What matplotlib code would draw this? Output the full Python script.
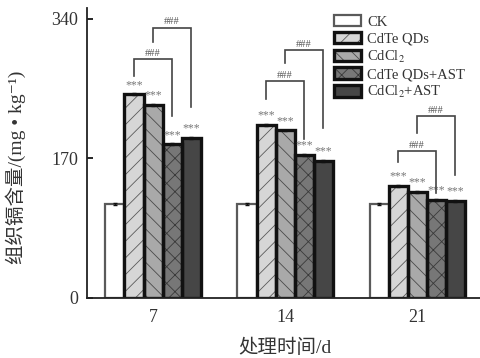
import matplotlib
matplotlib.use("Agg")
import matplotlib.pyplot as plt
import numpy as np

plt.rcParams['font.family'] = ['Liberation Serif', 'DejaVu Serif', 'Noto Sans CJK SC']
plt.rcParams['mathtext.fontset'] = 'stix'
plt.rcParams['hatch.linewidth'] = 0.6

days = ['7', '14', '21']
series = ['CK', 'CdTe QDs', 'CdCl$_2$', 'CdTe QDs+AST', 'CdCl$_2$+AST']
values = {
    'CK':            [114.5, 114.5, 114.5],
    'CdTe QDs':      [247.8, 210.4, 136.5],
    'CdCl$_2$':      [234.8, 203.9, 128.8],
    'CdTe QDs+AST':  [186.9, 173.9, 119.4],
    'CdCl$_2$+AST':  [194.6, 166.6, 118.2],
}
errors = [1.2, 1.2, 1.2, 1.2, 1.2]
stars = ['', '***', '***', '***', '***']
# brackets: (group, left bar, right bar, left foot, top, right foot)
brackets = [
    (0, 1, 3, 270, 291, 221),
    (0, 2, 4, 312, 329, 233),
    (1, 1, 3, 242, 264, 194),
    (1, 2, 4, 286, 302, 207),
    (2, 1, 3, 165, 179, 128),
    (2, 2, 4, 201, 221, 150),
]
yticks = [0, 170, 340]

faces = ['white', '#d6d6d6', '#a9a9a9', '#777777', '#464646']
edges = ['#5a5a5a', '#111111', '#111111', '#111111', '#111111']
hatch_cols = ['#5a5a5a', '#5a5a5a', '#4a4a4a', '#3a3a3a', '#464646']
lws = [1.6, 2.4, 2.4, 2.4, 2.4]
hatches = [None, '//', '\\\\', 'xx', None]

fig = plt.figure(figsize=(4.81, 3.58), dpi=100)
ax = fig.add_axes([87/481, 60/358, 393/481, 290/358])

x = np.arange(len(days))
w = 0.144
handles = []
for i, s in enumerate(series):
    pos = x + (i - 2) * w
    b1 = ax.bar(pos, values[s], width=w, facecolor=faces[i], edgecolor=hatch_cols[i],
                linewidth=0, hatch=hatches[i], zorder=2)
    b2 = ax.bar(pos, values[s], width=w, facecolor='none', edgecolor=edges[i],
                linewidth=lws[i], zorder=2.5)
    handles.append((b1.patches[0], b2.patches[0]))
    ax.errorbar(pos, values[s], yerr=errors[i], fmt='none', ecolor='#111111',
                elinewidth=1, capsize=1.5, zorder=3)
    if stars[i]:
        for px, v in zip(pos, values[s]):
            ax.annotate(stars[i], (px, v), xytext=(0, 2.5), textcoords='offset points',
                        ha='center', va='bottom', fontsize=8.5, color='#777777')

for g, a, b, fa, top, fb in brackets:
    xa = x[g] + (a - 2) * w
    xb = x[g] + (b - 2) * w
    ax.plot([xa, xa, xb, xb], [fa, top, top, fb], color='#444444', lw=1.2,
            solid_joinstyle='miter', zorder=3)
    ax.annotate('###', ((xa + xb) / 2, top), xytext=(0, 1), textcoords='offset points',
                ha='center', va='bottom', fontsize=7.5, color='#555555')

ax.set_xlim(-0.5, 2.477)
ax.set_ylim(0, 353)
ax.set_xticks(x)
ax.set_xticklabels(days)
ax.set_yticks(yticks)
ax.tick_params(axis='y', direction='in', length=4, width=1.2, pad=6.5, labelsize=13,
               labelcolor='#333333')
ax.tick_params(axis='x', length=0, pad=8, labelsize=13, labelcolor='#333333')
for sp in ['top', 'right']:
    ax.spines[sp].set_visible(False)
for sp in ['left', 'bottom']:
    ax.spines[sp].set_linewidth(1.3)
    ax.spines[sp].set_color('#222222')

ax.set_ylabel('组织镉含量/(mg • kg⁻¹)', fontsize=14, color='#333333')
ax.yaxis.set_label_coords(-0.155, 0.45)
ax.set_xlabel('处理时间/d', fontsize=14, color='#333333')
ax.xaxis.set_label_coords(0.505, -0.14)
ax.xaxis.label.set_va('top')

leg = ax.legend(handles, series, loc='upper left', bbox_to_anchor=(327/481, 1 - 8/358),
                bbox_transform=fig.transFigure, frameon=False, borderpad=0,
                handlelength=1.85, handleheight=0.8, handletextpad=0.4,
                labelspacing=0.2, fontsize=10.5)
for t in leg.get_texts():
    t.set_color('#333333')

fig.savefig('out.png', dpi=100)
